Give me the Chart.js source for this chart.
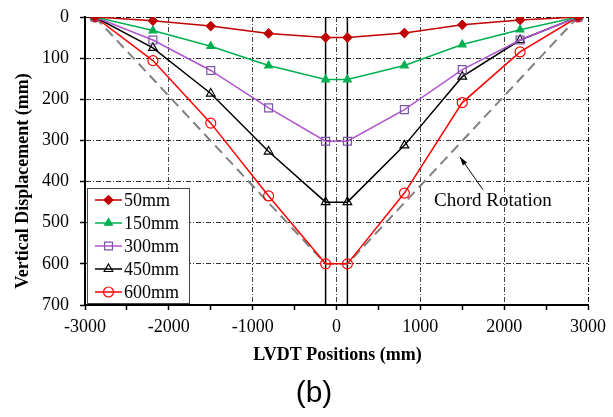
<!DOCTYPE html>
<html>
<head>
<meta charset="utf-8">
<script src="https://cdn.jsdelivr.net/npm/chart.js@4/dist/chart.umd.min.js"></script>
<style>
  html, body { margin: 0; padding: 0; background: #fff; }
</style>
</head>
<body>
<canvas id="lvdt-chart" width="613" height="417"></canvas>
<script>
// LVDT positions along the beam (mm) and vertical displacement per load stage (mm)
const positions = [-2880, -2190, -1500, -810, -130, 130, 810, 1500, 2190, 2880];
const disp50 = [0, 9, 22, 40, 50, 50, 39, 19, 7, 0];
const disp150 = [0, 33, 71, 118, 152, 152, 118, 67, 31, 0];
const disp300 = [0, 56, 130, 221, 302, 302, 225, 128, 56, 0];
const disp450 = [0, 75, 186, 327, 450, 450, 312, 145, 56, 0];
const disp600 = [0, 106, 258, 435, 600, 600, 428, 208, 85, 0];
const seriesLabels = ['50mm', '150mm', '300mm', '450mm', '600mm'];

// chord rotation reference line and support lines
const chordX = [-2880, -130, 130, 2880];
const chordY = [0, 600, 600, 0];
const supportX = [-130, 130];
const supportY = [0, 700];

const xTitle = 'LVDT Positions (mm)';
const yTitle = 'Vertical Displacement (mm)';
const chordNote = 'Chord Rotation';
const chordNoteAt = { x: 1866, y: 447 };
const arrowFrom = { x: 1747, y: 420 };
const arrowTo = { x: 1473, y: 340 };
const panelLabel = '(b)';

const serif = "'Liberation Serif', 'Times New Roman', serif";
const gridDash = [5, 2, 1, 2];

function toPoints(xs, ys) {
  return xs.map((x, i) => ({ x, y: ys[i] }));
}

function series(label, values, color, style, opts = {}) {
  return {
    label,
    data: toPoints(positions, values),
    borderColor: color,
    backgroundColor: color,
    borderWidth: 1.5,
    pointStyle: style,
    pointRadius: opts.radius || 4.5,
    pointBorderColor: opts.pointBorder || color,
    pointBackgroundColor: opts.fill || color,
    pointBorderWidth: 1.2,
    showLine: true,
    tension: 0,
    inLegend: true
  };
}

function refLine(xs, ys, color, width, dash) {
  return {
    data: toPoints(xs, ys),
    borderColor: color,
    borderWidth: width,
    borderDash: dash,
    pointRadius: 0,
    showLine: true,
    tension: 0,
    inLegend: false
  };
}

const datasets = [
  series(seriesLabels[0], disp50, '#C00000', 'rectRot', { radius: 4.5 }),
  series(seriesLabels[1], disp150, '#00B050', 'triangle', { radius: 4.5 }),
  series(seriesLabels[2], disp300, '#B055D0', 'rect', { radius: 5.6, pointBorder: '#7A55A8', fill: 'rgba(0,0,0,0)' }),
  series(seriesLabels[3], disp450, '#000000', 'triangle', { radius: 5, fill: 'rgba(0,0,0,0)' }),
  series(seriesLabels[4], disp600, '#FF0000', 'circle', { radius: 5, fill: 'rgba(0,0,0,0)' }),
  refLine(chordX, chordY, '#808080', 2, [10, 6]),
  refLine([supportX[0], supportX[0]], supportY, '#000000', 1.5, []),
  refLine([supportX[1], supportX[1]], supportY, '#000000', 1.5, [])
];

function drawMarker(ctx, ds, x, y) {
  ctx.save();
  ctx.fillStyle = ds.pointBackgroundColor;
  ctx.strokeStyle = ds.pointBorderColor;
  ctx.lineWidth = ds.pointBorderWidth;
  if (Chart.helpers && Chart.helpers.drawPoint) {
    Chart.helpers.drawPoint(ctx, { pointStyle: ds.pointStyle, radius: ds.pointRadius, rotation: 0, borderWidth: ds.pointBorderWidth }, x, y);
  }
  ctx.restore();
}

const extrasPlugin = {
  id: 'extras',
  afterDraw(chart) {
    const { ctx, scales, chartArea } = chart;
    const xs = scales.x;
    const ys = scales.y;

    // axis titles
    ctx.save();
    ctx.font = `bold 18px ${serif}`;
    ctx.fillStyle = '#000';
    ctx.textAlign = 'center';
    ctx.textBaseline = 'middle';
    ctx.fillText(xTitle, (chartArea.left + chartArea.right) / 2 + 1, 355);
    ctx.translate(23, 181);
    ctx.rotate(-Math.PI / 2);
    ctx.fillText(yTitle, 0, 0);
    ctx.restore();

    // chord rotation note with arrow
    const ax = xs.getPixelForValue(arrowFrom.x);
    const ay = ys.getPixelForValue(arrowFrom.y);
    const bx = xs.getPixelForValue(arrowTo.x);
    const by = ys.getPixelForValue(arrowTo.y);
    ctx.save();
    ctx.strokeStyle = '#000';
    ctx.fillStyle = '#000';
    ctx.lineWidth = 1;
    ctx.beginPath();
    ctx.moveTo(ax, ay);
    ctx.lineTo(bx, by);
    ctx.stroke();
    const ang = Math.atan2(by - ay, bx - ax);
    ctx.beginPath();
    ctx.moveTo(bx, by);
    ctx.lineTo(bx - 9 * Math.cos(ang - 0.3), by - 9 * Math.sin(ang - 0.3));
    ctx.lineTo(bx - 9 * Math.cos(ang + 0.3), by - 9 * Math.sin(ang + 0.3));
    ctx.closePath();
    ctx.fill();
    ctx.font = `19px ${serif}`;
    ctx.textAlign = 'center';
    ctx.textBaseline = 'middle';
    ctx.fillText(chordNote, xs.getPixelForValue(chordNoteAt.x), ys.getPixelForValue(chordNoteAt.y));
    ctx.restore();

    // legend inside the plot
    const legendSets = chart.data.datasets.filter((d) => d.inLegend);
    const boxX = 87, boxY = 188, boxW = 102, boxH = 115, rowH = 23;
    ctx.save();
    ctx.fillStyle = '#fff';
    ctx.fillRect(boxX, boxY, boxW, boxH);
    ctx.strokeStyle = '#444';
    ctx.lineWidth = 1;
    ctx.strokeRect(boxX + 0.5, boxY + 0.5, boxW, boxH);
    ctx.font = `18px ${serif}`;
    ctx.textBaseline = 'middle';
    ctx.textAlign = 'left';
    legendSets.forEach((ds, i) => {
      const cy = boxY + 12 + i * rowH;
      ctx.strokeStyle = ds.borderColor;
      ctx.lineWidth = 1.5;
      ctx.beginPath();
      ctx.moveTo(95, cy);
      ctx.lineTo(122, cy);
      ctx.stroke();
      drawMarker(ctx, ds, 108.5, cy);
      ctx.fillStyle = '#000';
      ctx.fillText(ds.label, 124, cy + 1);
    });
    ctx.restore();

    // panel label
    ctx.save();
    ctx.font = `30px 'Liberation Sans', Arial, sans-serif`;
    ctx.fillStyle = '#000';
    ctx.textAlign = 'center';
    ctx.textBaseline = 'middle';
    ctx.fillText(panelLabel, 314, 394);
    ctx.restore();
  }
};

new Chart(document.getElementById('lvdt-chart'), {
  type: 'scatter',
  data: { datasets },
  options: {
    responsive: false,
    animation: false,
    layout: { padding: { top: 17, right: 25, left: 0, bottom: 0 } },
    plugins: {
      legend: { display: false },
      tooltip: { enabled: false }
    },
    scales: {
      x: {
        type: 'linear',
        min: -3000,
        max: 3000,
        afterFit(scale) { scale.height = 112; },
        ticks: {
          stepSize: 500,
          autoSkip: false,
          maxRotation: 0,
          padding: 6,
          color: '#000',
          font: { family: serif, size: 18 },
          callback: (v) => (v % 1000 === 0 ? String(v) : '')
        },
        grid: {
          color: (c) => {
            const v = c.tick && c.tick.value;
            if (v === -3000 || v % 1000 !== 0) return 'rgba(0,0,0,0)';
            return v === 3000 ? '#000' : '#444';
          },
          lineWidth: 1,
          tickLength: 5,
          tickColor: '#000',
          tickWidth: 1.5,
          tickBorderDash: []
        },
        border: { display: true, color: '#000', width: 2, dash: gridDash }
      },
      y: {
        type: 'linear',
        reverse: true,
        min: 0,
        max: 700,
        afterFit(scale) {
          scale.width = 85;
          scale.paddingTop = 0;
          scale.paddingBottom = 0;
        },
        ticks: {
          stepSize: 100,
          padding: 11,
          color: '#000',
          font: { family: serif, size: 18 }
        },
        grid: {
          color: (c) => {
            const v = c.tick && c.tick.value;
            if (v === 700) return 'rgba(0,0,0,0)';
            return v === 0 ? '#000' : '#333';
          },
          lineWidth: 1,
          tickLength: 5,
          tickColor: '#000',
          tickWidth: 1.5,
          tickBorderDash: []
        },
        border: { display: true, color: '#000', width: 2, dash: gridDash }
      }
    }
  },
  plugins: [extrasPlugin]
});
</script>
</body>
</html>
